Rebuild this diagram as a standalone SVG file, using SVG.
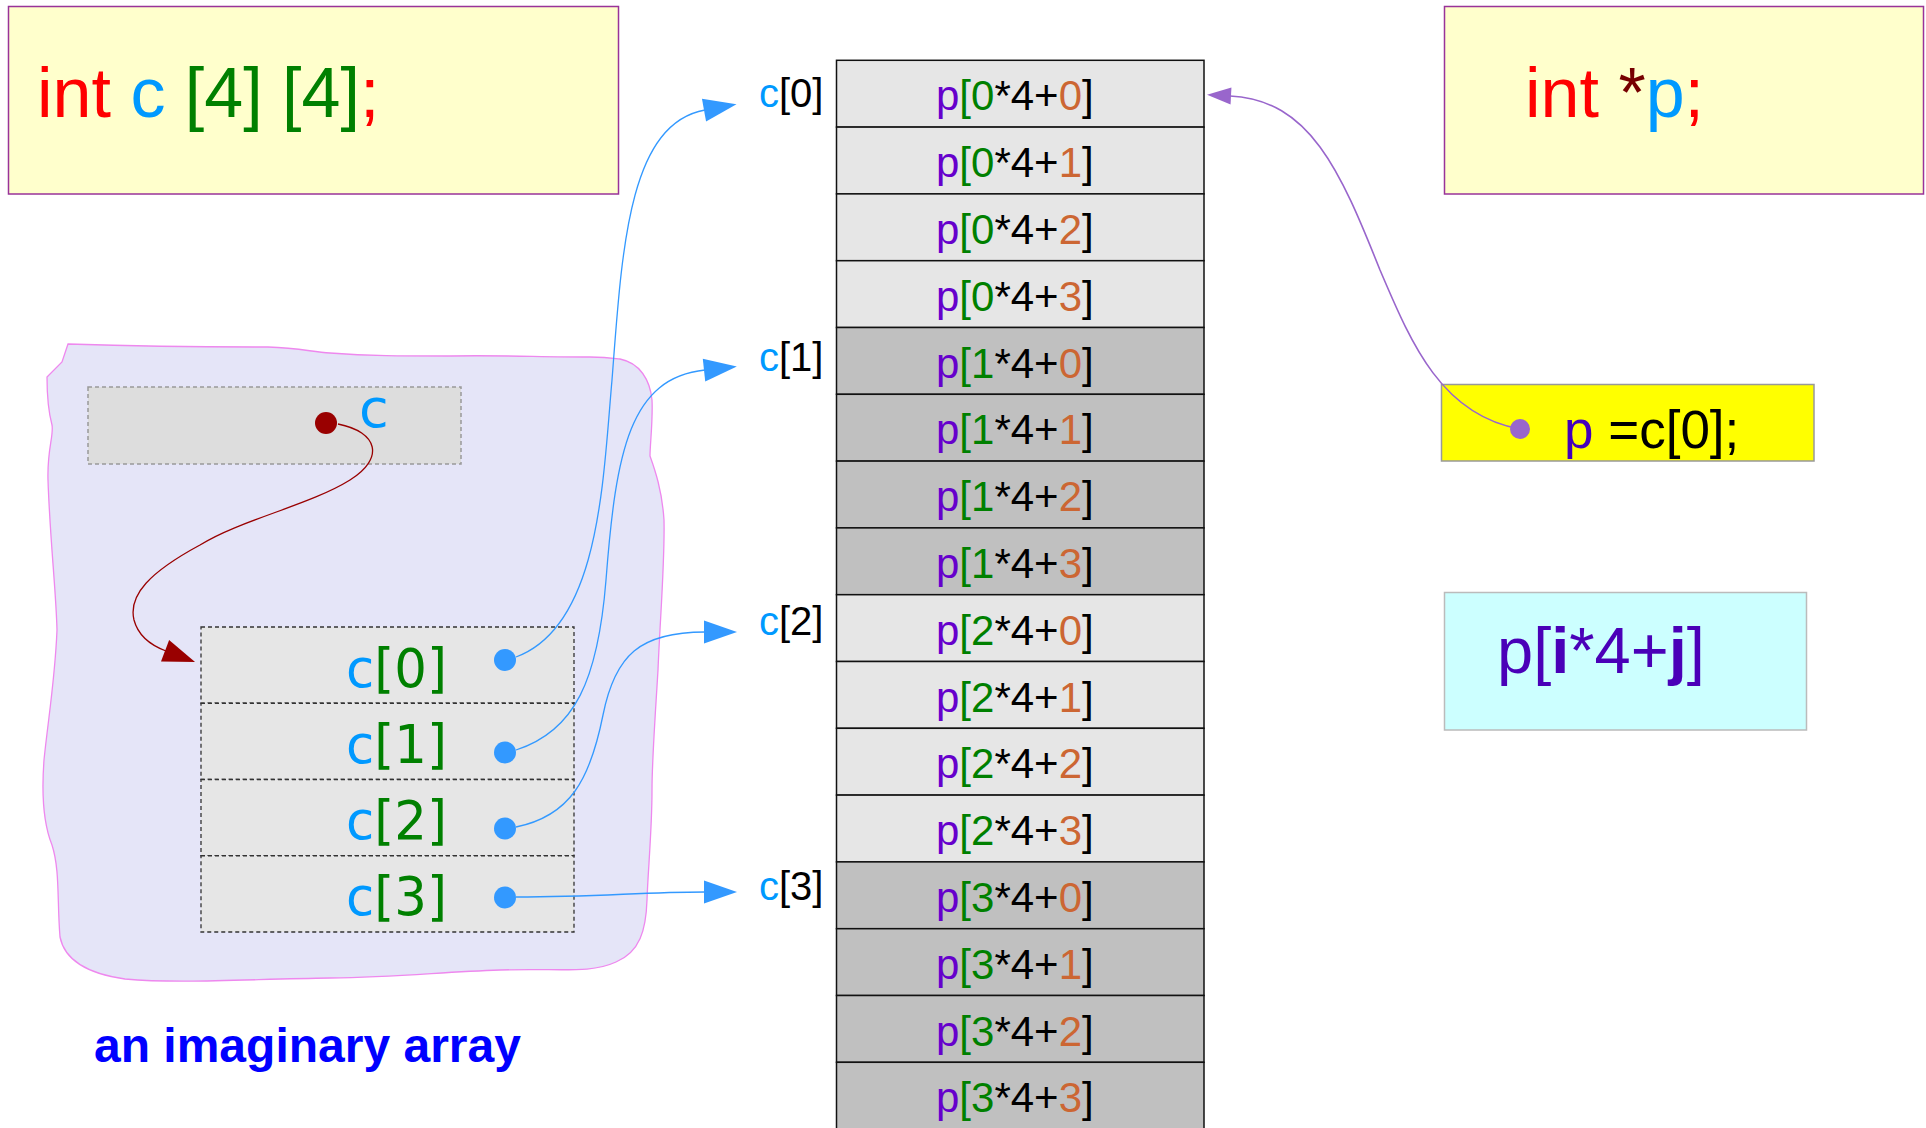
<svg xmlns="http://www.w3.org/2000/svg" width="1926" height="1128" viewBox="0 0 1926 1128">
<style>
  .sans { font-family: "Liberation Sans", Arial, sans-serif; }
  .dv { font-family: "DejaVu Sans", sans-serif; }
  .decl { fill: #ffffcc; stroke: #993399; stroke-width: 1.5; }
  .cellL { fill: #e6e6e6; stroke: #111; stroke-width: 1.5; }
  .cellD { fill: #c0c0c0; stroke: #111; stroke-width: 1.5; }
  .cell { font-size: 42px; fill: #000; }
  .lbl { font-size: 40px; fill: #000; }
  .pp { fill: #6600cc; }
  .g { fill: #008000; }
  .o { fill: #cc6633; }
  .cb { fill: #0099ff; }
  .red { fill: #ff0000; }
  .arr { fill: #e6e6e6; stroke: #333; stroke-width: 1.3; stroke-dasharray: 4 3; }
  .arrTxt { font-size: 54px; }
  .blue { fill: none; stroke: #3399ff; stroke-width: 1.3; }
  .bdot { fill: #3399ff; }
</style>
<defs>
  <marker id="ab" markerUnits="userSpaceOnUse" markerWidth="34" markerHeight="24" refX="1" refY="11.5" orient="auto" overflow="visible">
    <path d="M0,0 L33,11.5 L0,23 Z" fill="#3399ff"/>
  </marker>
  <marker id="ap" markerUnits="userSpaceOnUse" markerWidth="25" markerHeight="18" refX="1" refY="8.5" orient="auto" overflow="visible">
    <path d="M0,0 L24,8.5 L0,17 Z" fill="#9966cc"/>
  </marker>
  <marker id="ar" markerUnits="userSpaceOnUse" markerWidth="34" markerHeight="24" refX="1" refY="11.5" orient="auto" overflow="visible">
    <path d="M0,0 L32,11.5 L0,23 Z" fill="#990000"/>
  </marker>
</defs>

<g id="imaginary-region">
  <path d="M 68 344 C 100 345 180 347 268 347 C 300 348 312 352 330 353 C 370 356 400 356 450 356 C 500 355 540 357 590 357 C 605 357 612 358 620 359 C 640 363 650 380 652 400 C 653 420 650 445 650 456 C 655 470 662 490 664 520 C 665 560 660 620 658 670 C 655 720 652 760 652 790 C 652 830 648 870 647 900 C 646 930 640 952 616 962 C 590 974 560 968 500 970 C 440 972 400 977 330 978 C 250 979 180 984 125 979 C 90 974 65 962 60 937 C 57 900 60 870 52 845 C 44 825 41 800 44 760 C 48 720 55 680 57 630 C 56 590 50 540 48 480 C 47 450 54 435 52 425 C 48 410 47 390 47 377 L 62 362 Z" fill="#e5e5f8" stroke="#ee88ee" stroke-width="1.3"/>
  <text class="sans" x="94" y="1062" font-size="48" font-weight="bold" fill="#0000ff">an imaginary array</text>
</g>

<g id="decl-c">
  <rect class="decl" x="8.5" y="6.5" width="610" height="187.5"/>
  <text class="sans" x="37" y="117" font-size="70"><tspan class="red">int </tspan><tspan class="cb">c </tspan><tspan class="g">[4] [4]</tspan><tspan class="red">;</tspan></text>
</g>

<g id="decl-p">
  <rect class="decl" x="1444.5" y="6.5" width="479" height="187.5"/>
  <text class="sans" x="1525" y="117" font-size="70"><tspan class="red">int </tspan><tspan fill="#770000">*</tspan><tspan class="cb">p</tspan><tspan class="red">;</tspan></text>
</g>

<g id="assign-p">
  <rect x="1441.5" y="384.5" width="372.5" height="76.5" fill="#ffff00" stroke="#999999" stroke-width="1.5"/>
  <circle cx="1520" cy="429" r="10" fill="#9966cc"/>
  <text class="sans" x="1564" y="448" font-size="53"><tspan fill="#4400bb">p</tspan> =c[0];</text>
</g>

<g id="formula">
  <rect x="1444.5" y="592.5" width="362" height="137.5" fill="#ccffff" stroke="#bbbbbb" stroke-width="1.5"/>
  <text class="sans" x="1497" y="673" font-size="65" fill="#4a00b8">p[<tspan font-weight="bold">i</tspan>*4+<tspan font-weight="bold">j</tspan>]</text>
</g>

<g id="ptr-c">
  <rect x="88" y="387" width="373" height="77" fill="#dddddd" stroke="#999999" stroke-width="1.5" stroke-dasharray="4 3"/>
  <circle cx="326" cy="423" r="11" fill="#990000"/>
  <text class="dv cb" x="359" y="427" font-size="54">c</text>
</g>

<g id="array-c">
  <rect class="arr" x="201" y="627" width="373" height="76.25"/>
  <rect class="arr" x="201" y="703.25" width="373" height="76.25"/>
  <rect class="arr" x="201" y="779.5" width="373" height="76.25"/>
  <rect class="arr" x="201" y="855.75" width="373" height="76.25"/>
  <text class="dv arrTxt" x="346" y="687" textLength="101" lengthAdjust="spacingAndGlyphs"><tspan class="cb">c</tspan><tspan class="g">[0]</tspan></text>
  <text class="dv arrTxt" x="346" y="763" textLength="101" lengthAdjust="spacingAndGlyphs"><tspan class="cb">c</tspan><tspan class="g">[1]</tspan></text>
  <text class="dv arrTxt" x="346" y="839" textLength="101" lengthAdjust="spacingAndGlyphs"><tspan class="cb">c</tspan><tspan class="g">[2]</tspan></text>
  <text class="dv arrTxt" x="346" y="915" textLength="101" lengthAdjust="spacingAndGlyphs"><tspan class="cb">c</tspan><tspan class="g">[3]</tspan></text>
  <circle class="bdot" cx="505" cy="660" r="11"/>
  <circle class="bdot" cx="505" cy="752.5" r="11"/>
  <circle class="bdot" cx="505" cy="828.5" r="11"/>
  <circle class="bdot" cx="505" cy="897.5" r="11"/>
</g>

<g id="memory">
  <rect class="cellL" x="836.5" y="60.3" width="367.5" height="66.8"/>
  <rect class="cellL" x="836.5" y="127.1" width="367.5" height="66.8"/>
  <rect class="cellL" x="836.5" y="193.9" width="367.5" height="66.8"/>
  <rect class="cellL" x="836.5" y="260.7" width="367.5" height="66.8"/>
  <rect class="cellD" x="836.5" y="327.5" width="367.5" height="66.8"/>
  <rect class="cellD" x="836.5" y="394.3" width="367.5" height="66.8"/>
  <rect class="cellD" x="836.5" y="461.1" width="367.5" height="66.8"/>
  <rect class="cellD" x="836.5" y="527.9" width="367.5" height="66.8"/>
  <rect class="cellL" x="836.5" y="594.7" width="367.5" height="66.8"/>
  <rect class="cellL" x="836.5" y="661.5" width="367.5" height="66.8"/>
  <rect class="cellL" x="836.5" y="728.3" width="367.5" height="66.8"/>
  <rect class="cellL" x="836.5" y="795.1" width="367.5" height="66.8"/>
  <rect class="cellD" x="836.5" y="861.9" width="367.5" height="66.8"/>
  <rect class="cellD" x="836.5" y="928.7" width="367.5" height="66.8"/>
  <rect class="cellD" x="836.5" y="995.5" width="367.5" height="66.8"/>
  <rect class="cellD" x="836.5" y="1062.3" width="367.5" height="66.8"/>
  <g class="sans cell">
    <text x="936" y="110.3"><tspan class="pp">p</tspan><tspan class="g">[0</tspan>*4+<tspan class="o">0</tspan>]</text>
    <text x="936" y="177.1"><tspan class="pp">p</tspan><tspan class="g">[0</tspan>*4+<tspan class="o">1</tspan>]</text>
    <text x="936" y="243.9"><tspan class="pp">p</tspan><tspan class="g">[0</tspan>*4+<tspan class="o">2</tspan>]</text>
    <text x="936" y="310.7"><tspan class="pp">p</tspan><tspan class="g">[0</tspan>*4+<tspan class="o">3</tspan>]</text>
    <text x="936" y="377.5"><tspan class="pp">p</tspan><tspan class="g">[1</tspan>*4+<tspan class="o">0</tspan>]</text>
    <text x="936" y="444.3"><tspan class="pp">p</tspan><tspan class="g">[1</tspan>*4+<tspan class="o">1</tspan>]</text>
    <text x="936" y="511.1"><tspan class="pp">p</tspan><tspan class="g">[1</tspan>*4+<tspan class="o">2</tspan>]</text>
    <text x="936" y="577.9"><tspan class="pp">p</tspan><tspan class="g">[1</tspan>*4+<tspan class="o">3</tspan>]</text>
    <text x="936" y="644.7"><tspan class="pp">p</tspan><tspan class="g">[2</tspan>*4+<tspan class="o">0</tspan>]</text>
    <text x="936" y="711.5"><tspan class="pp">p</tspan><tspan class="g">[2</tspan>*4+<tspan class="o">1</tspan>]</text>
    <text x="936" y="778.3"><tspan class="pp">p</tspan><tspan class="g">[2</tspan>*4+<tspan class="o">2</tspan>]</text>
    <text x="936" y="845.1"><tspan class="pp">p</tspan><tspan class="g">[2</tspan>*4+<tspan class="o">3</tspan>]</text>
    <text x="936" y="911.9"><tspan class="pp">p</tspan><tspan class="g">[3</tspan>*4+<tspan class="o">0</tspan>]</text>
    <text x="936" y="978.7"><tspan class="pp">p</tspan><tspan class="g">[3</tspan>*4+<tspan class="o">1</tspan>]</text>
    <text x="936" y="1045.5"><tspan class="pp">p</tspan><tspan class="g">[3</tspan>*4+<tspan class="o">2</tspan>]</text>
    <text x="936" y="1112.3"><tspan class="pp">p</tspan><tspan class="g">[3</tspan>*4+<tspan class="o">3</tspan>]</text>
  </g>
  <g class="sans lbl">
    <text x="759" y="107"><tspan class="cb">c</tspan>[0]</text>
    <text x="759" y="371"><tspan class="cb">c</tspan>[1]</text>
    <text x="759" y="635"><tspan class="cb">c</tspan>[2]</text>
    <text x="759" y="900"><tspan class="cb">c</tspan>[3]</text>
  </g>
</g>

<g id="connectors">
  <path class="blue" d="M 516 657 C 600 626 603 480 612 380 C 622 250 628 124 705 110" marker-end="url(#ab)"/>
  <path class="blue" d="M 516 750 C 575 731 598 680 606 580 C 616 450 630 378 705 370" marker-end="url(#ab)"/>
  <path class="blue" d="M 516 827 C 570 816 590 780 603 715 C 615 655 640 632 705 632" marker-end="url(#ab)"/>
  <path class="blue" d="M 516 897 C 600 897 640 892 705 892" marker-end="url(#ab)"/>
  <path d="M 338 424 C 378 432 385 458 350 480 C 310 505 240 520 200 545 C 150 572 128 595 134 620 C 138 635 150 645 166 651" fill="none" stroke="#990000" stroke-width="1.3" marker-end="url(#ar)"/>
  <path d="M 1520 429 C 1440 415 1410 340 1380 270 C 1340 170 1310 100 1230 96" fill="none" stroke="#9966cc" stroke-width="1.6" marker-end="url(#ap)"/>
</g>
</svg>
